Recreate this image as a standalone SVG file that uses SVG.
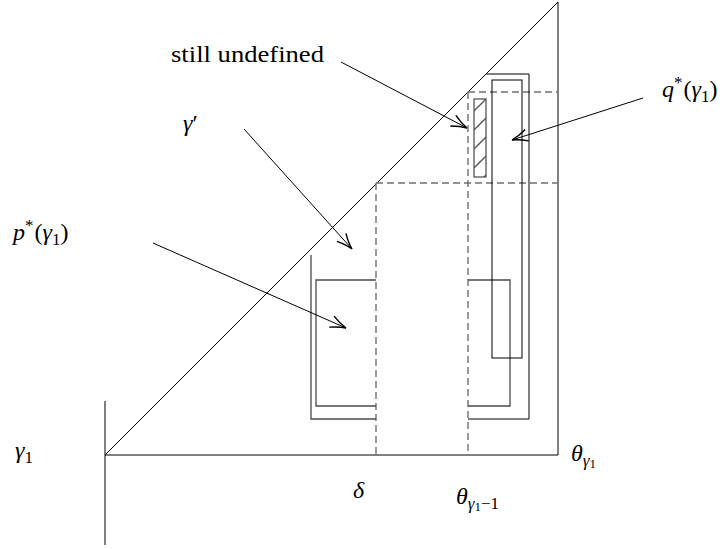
<svg xmlns="http://www.w3.org/2000/svg" width="725" height="549" viewBox="0 0 725 549">
<defs>
<marker id="ah" markerUnits="userSpaceOnUse" markerWidth="20" markerHeight="20" viewBox="-12 -6 14 12" refX="0" refY="0" orient="auto">
<path d="M-11,-4.2 Q-5,-1 0,0 Q-5,1 -11,4.2" fill="none" stroke="#000" stroke-width="1"/>
</marker>
<clipPath id="hc"><rect x="474" y="99" width="12" height="78"/></clipPath>
</defs>
<g id="axes" fill="none">
<line x1="105" y1="401" x2="105" y2="545" stroke="#808080" stroke-width="2"/>
<path d="M105,455 L558,2 V455 H105" stroke="#000" stroke-width="1"/>
</g>
<g id="dashes" fill="none" stroke="#707070" stroke-width="1.4" stroke-dasharray="7 4">
<path d="M376,183 V455 M468,92 V455 M376,183 H558 M468,92 H558"/>
</g>
<g id="left-block" fill="none" stroke="#4a4a4a" stroke-width="1.3">
<path d="M311,255 V419 H376"/>
<path d="M376,280 H316 V406 H376"/>
</g>
<g id="right-block" fill="none" stroke-width="1">
<path d="M468,280 H510 V406 H468" stroke="#4a4a4a" stroke-width="1.3"/>
<path d="M486,74 H529 V419 H468" stroke="#000"/>
<rect x="492" y="80" width="30" height="278" stroke="#000"/>
</g>
<g id="undefined-box">
<g clip-path="url(#hc)" stroke="#555" stroke-width="1.3">
<line x1="474" y1="111" x2="486" y2="99"/>
<line x1="474" y1="130" x2="486" y2="118"/>
<line x1="474" y1="149" x2="486" y2="137"/>
<line x1="474" y1="168" x2="486" y2="156"/>
<line x1="474" y1="187" x2="486" y2="175"/>
</g>
<rect x="474" y="99" width="12" height="78" fill="none" stroke="#555" stroke-width="1.3"/>
</g>
<g id="connectors" fill="none" stroke="#000" stroke-width="1">
<line x1="341" y1="62" x2="467" y2="128" marker-end="url(#ah)"/>
<line x1="643" y1="98" x2="512" y2="140" marker-end="url(#ah)"/>
<line x1="244" y1="129" x2="352" y2="249" marker-end="url(#ah)"/>
<line x1="153" y1="243" x2="346" y2="328" marker-end="url(#ah)"/>
</g>
<text id="label-still-undefined" x="171" y="62" font-family="Liberation Serif" font-size="24" textLength="153" lengthAdjust="spacingAndGlyphs">still undefined</text>
<text id="label-gamma-prime" x="183" y="131" font-family="Liberation Serif" font-size="24"><tspan font-style="italic">γ</tspan>′</text>
<text id="label-p" x="13" y="240" font-family="Liberation Serif" font-size="24"><tspan font-style="italic">p</tspan><tspan font-size="17" dy="-9">*</tspan><tspan dy="9" dx="1">(</tspan><tspan font-style="italic">γ</tspan><tspan font-size="17" dy="5">1</tspan><tspan dy="-5">)</tspan></text>
<text id="label-q" x="662" y="97" font-family="Liberation Serif" font-size="24"><tspan font-style="italic">q</tspan><tspan font-size="17" dy="-9">*</tspan><tspan dy="9" dx="1">(</tspan><tspan font-style="italic">γ</tspan><tspan font-size="17" dy="5">1</tspan><tspan dy="-5">)</tspan></text>
<text id="label-gamma1" x="15" y="458" font-family="Liberation Serif" font-size="24"><tspan font-style="italic">γ</tspan><tspan font-size="17" dy="5">1</tspan></text>
<text id="label-delta" x="353" y="498" font-family="Liberation Serif" font-size="24" font-style="italic">δ</text>
<text id="label-theta-g1-1" x="456" y="504" font-family="Liberation Serif" font-size="24"><tspan font-style="italic">θ</tspan><tspan font-size="17" font-style="italic" dy="5">γ</tspan><tspan dy="2" font-size="13">1</tspan><tspan font-size="17" dy="-2">−1</tspan></text>
<text id="label-theta-g1" x="571" y="461" font-family="Liberation Serif" font-size="24"><tspan font-style="italic">θ</tspan><tspan font-size="17" font-style="italic" dy="5">γ</tspan><tspan dy="2" font-size="13">1</tspan></text>
</svg>
